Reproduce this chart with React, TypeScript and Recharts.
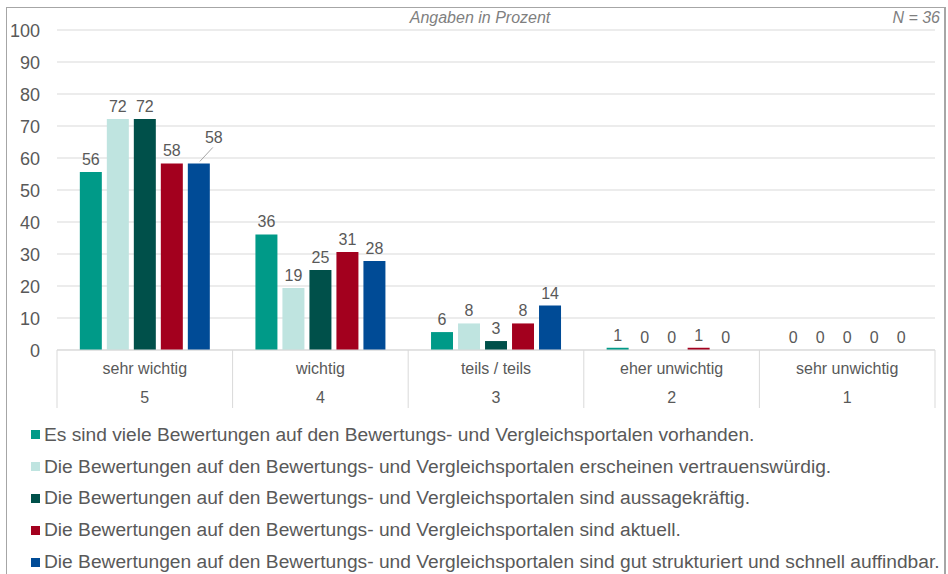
import React from "react";
import {
  BarChart,
  Bar,
  XAxis,
  YAxis,
  CartesianGrid,
  Rectangle,
} from "recharts";

const categories = ["sehr wichtig", "wichtig", "teils / teils", "eher unwichtig", "sehr unwichtig"];
const scaleCodes = ["5", "4", "3", "2", "1"];

const seriesNames = [
  "Es sind viele Bewertungen auf den Bewertungs- und Vergleichsportalen vorhanden.",
  "Die Bewertungen auf den Bewertungs- und Vergleichsportalen erscheinen vertrauenswürdig.",
  "Die Bewertungen auf den Bewertungs- und Vergleichsportalen sind aussagekräftig.",
  "Die Bewertungen auf den Bewertungs- und Vergleichsportalen sind aktuell.",
  "Die Bewertungen auf den Bewertungs- und Vergleichsportalen sind gut strukturiert und schnell auffindbar.",
];
const seriesColors = ["#009a88", "#bfe4e0", "#00504a", "#a3001e", "#004b96"];

const vielVorhanden = [55.6, 36.1, 5.6, 0.7, 0];
const vertrauenswuerdig = [72.2, 19.4, 8.3, 0, 0];
const aussagekraeftig = [72.2, 25.0, 2.8, 0, 0];
const aktuell = [58.3, 30.6, 8.3, 0.7, 0];
const strukturiert = [58.3, 27.8, 13.9, 0, 0];

const yTicks = [0, 10, 20, 30, 40, 50, 60, 70, 80, 90, 100];

const seriesValues = [vielVorhanden, vertrauenswuerdig, aussagekraeftig, aktuell, strukturiert];
const data = categories.map((c, i) => {
  const row: Record<string, string | number> = { name: c, code: scaleCodes[i] };
  seriesValues.forEach((vals, s) => {
    row["s" + s] = vals[i];
  });
  return row;
});

const FONT = "'Liberation Sans', Arial, sans-serif";
const TEXT = "#595959";
const GRID = "#d9d9d9";

const PLOT_LEFT = 57;
const PLOT_RIGHT = 935;
const CHART_W = 948;
const CHART_H = 415;
const BAND = (PLOT_RIGHT - PLOT_LEFT) / categories.length;

function XTick(props: any) {
  const { x, y, payload, index } = props;
  const left = x - BAND / 2;
  const right = x + BAND / 2;
  return (
    <g>
      <line x1={left} y1={y} x2={left} y2={y + 58} stroke={GRID} />
      {index === categories.length - 1 && (
        <line x1={right} y1={y} x2={right} y2={y + 58} stroke={GRID} />
      )}
      <text x={x} y={y + 24} textAnchor="middle" fontSize={16} fill={TEXT} fontFamily={FONT}>
        {payload.value}
      </text>
      <text x={x} y={y + 53} textAnchor="middle" fontSize={16} fill={TEXT} fontFamily={FONT}>
        {scaleCodes[index]}
      </text>
    </g>
  );
}

function YTick(props: any) {
  const { y, payload } = props;
  return (
    <text x={40} y={y + 7} textAnchor="end" fontSize={18} fill={TEXT} fontFamily={FONT}>
      {payload.value}
    </text>
  );
}

// bar + its value label drawn together, so zero values still get a "0"
function BarWithLabel(props: any) {
  const { x, y, width, height, fill, value, index, series } = props;
  const v = Array.isArray(value) ? value[1] - value[0] : value;
  const cx = x + width / 2;
  const top = Math.min(y, y + height);
  const txt = Math.round(Number(v));
  let label;
  if (series === 4 && index === 0) {
    label = (
      <g>
        <line x1={cx + 1} y1={top - 2} x2={cx + 14} y2={top - 16} stroke="#a6a6a6" />
        <text x={cx + 15} y={top - 20} textAnchor="middle" fontSize={16} fill={TEXT} fontFamily={FONT}>
          {txt}
        </text>
      </g>
    );
  } else {
    label = (
      <text x={cx} y={top - 7} textAnchor="middle" fontSize={16} fill={TEXT} fontFamily={FONT}>
        {txt}
      </text>
    );
  }
  return (
    <g>
      {height !== 0 && <Rectangle x={x} y={y} width={width} height={height} fill={fill} />}
      {label}
    </g>
  );
}

export default function App() {
  return (
    <div style={{ position: "absolute", left: 0, top: 0, width: CHART_W, height: 574, overflow: "hidden", background: "#fff", fontFamily: FONT }}>
      <div
        style={{
          position: "absolute",
          left: 6,
          top: 7,
          width: 937,
          height: 600,
          borderLeft: "1px solid #a6a6a6",
          borderTop: "1px solid #a6a6a6",
          borderRight: "2px solid #a6a6a6",
        }}
      />
      <div style={{ position: "absolute", left: 0, top: 9, width: 960, textAlign: "center", fontStyle: "italic", fontSize: 16, color: "#7f7f7f" }}>
        Angaben in Prozent
      </div>
      <div style={{ position: "absolute", right: 8, top: 9, fontStyle: "italic", fontSize: 16, color: "#7f7f7f" }}>
        N = 36
      </div>
      <div style={{ position: "absolute", left: 0, top: 0 }}>
        <BarChart
          width={CHART_W}
          height={CHART_H}
          data={data}
          margin={{ top: 30, right: CHART_W - PLOT_RIGHT, left: 0, bottom: 0 }}
          barCategoryGap="13%"
          barGap={5}
        >
          <CartesianGrid vertical={false} stroke={GRID} />
          <YAxis
            width={PLOT_LEFT}
            domain={[0, 100]}
            ticks={yTicks}
            axisLine={false}
            tickLine={false}
            tick={<YTick />}
            interval={0}
          />
          <XAxis
            dataKey="name"
            height={65}
            axisLine={{ stroke: GRID }}
            tickLine={false}
            tickSize={0}
            tickMargin={0}
            tick={<XTick />}
            interval={0}
          />
          {seriesNames.map((n, s) => (
            <Bar
              key={n}
              dataKey={"s" + s}
              name={n}
              fill={seriesColors[s]}
              isAnimationActive={false}
              shape={(p: any) => <BarWithLabel {...p} series={s} />}
            />
          ))}
        </BarChart>
      </div>
      <div style={{ position: "absolute", left: 31, top: 419 }}>
        {seriesNames.map((n, s) => (
          <div key={n} style={{ display: "flex", alignItems: "center", height: 31.8, fontSize: 19.2, color: TEXT, whiteSpace: "nowrap" }}>
            <span style={{ display: "inline-block", width: 9, height: 9, background: seriesColors[s], marginRight: 4 }} />
            {n}
          </div>
        ))}
      </div>
    </div>
  );
}
